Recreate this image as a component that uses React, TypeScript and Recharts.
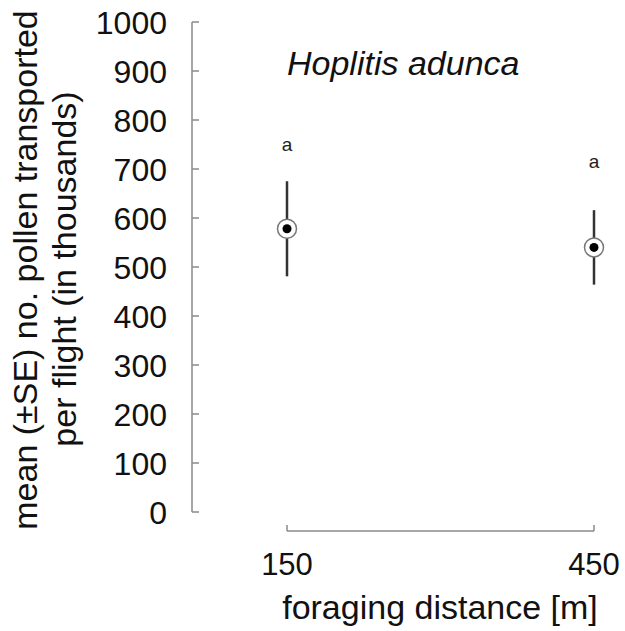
import React from 'react';
import { ScatterChart, Scatter, XAxis, YAxis, ErrorBar, ReferenceLine } from 'recharts';

const distances = [150, 450];
const meanPollen = [578, 540];
const sePollen = [97, 76];
const letters = ['a', 'a'];
const letterValues = [750, 714];
const yTicks = [0, 100, 200, 300, 400, 500, 600, 700, 800, 900, 1000];
const xTicks = [150, 450];
const title = 'Hoplitis adunca';
const yLabelLines = ['mean (±SE) no. pollen transported', 'per flight (in thousands)'];
const xLabel = 'foraging distance [m]';

const data = distances.map((d, i) => ({ x: d, y: meanPollen[i], err: sePollen[i] }));
const letterData = distances.map((d, i) => ({ x: d, y: letterValues[i], label: letters[i] }));

const FONT = '"Liberation Sans", Arial, sans-serif';
const AXIS = '#8a8a8a';
const TEXT = '#111';
const X_AXIS_LINE_Y = -38.8;

const YTick = (props: any) => {
  const { x, y, payload } = props;
  return (
    <g>
      <line x1={x} x2={x + 7} y1={y} y2={y} stroke={AXIS} strokeWidth={1.5} />
      <text x={x - 25} y={y + 12} textAnchor="end" fontSize={32} fontFamily={FONT} fill={TEXT}>
        {payload.value}
      </text>
    </g>
  );
};

const XTick = (props: any) => {
  const { x, y, payload } = props;
  return (
    <g>
      <line x1={x} x2={x} y1={y + 19} y2={y + 13} stroke={AXIS} strokeWidth={1.5} />
      <text x={x} y={y + 63} textAnchor="middle" fontSize={31} fontFamily={FONT} fill={TEXT}>
        {payload.value}
      </text>
    </g>
  );
};

const YLabel = () => (
  <g>
    <text
      transform="translate(37,270) rotate(-90)"
      textAnchor="middle"
      fontSize={34}
      fontFamily={FONT}
      fill={TEXT}
    >
      {yLabelLines[0]}
    </text>
    <text
      transform="translate(76,269) rotate(-90)"
      textAnchor="middle"
      fontSize={34}
      fontFamily={FONT}
      fill={TEXT}
    >
      {yLabelLines[1]}
    </text>
    <text x={287} y={75} fontSize={34} fontStyle="italic" fontFamily={FONT} fill={TEXT}>
      {title}
    </text>
  </g>
);

const XLabel = () => (
  <text x={440} y={619} textAnchor="middle" fontSize={34} fontFamily={FONT} fill={TEXT}>
    {xLabel}
  </text>
);

const PointShape = (props: any) => {
  const { cx, cy } = props;
  return (
    <g>
      <circle cx={cx} cy={cy} r={9.5} fill="#fff" stroke="#777" strokeWidth={1.5} />
      <circle cx={cx} cy={cy} r={4.5} fill="#000" />
    </g>
  );
};

const LetterShape = (props: any) => {
  const { cx, cy, payload } = props;
  return (
    <text x={cx} y={cy + 6} textAnchor="middle" fontSize={19} fontFamily={FONT} fill="#222">
      {payload.label}
    </text>
  );
};

export default function App() {
  return (
    <div style={{ position: 'absolute', left: 0, top: 0, background: '#fff' }}>
      <ScatterChart width={625} height={631} margin={{ top: 22, right: 31, bottom: 0, left: 0 }}>
        <XAxis
          type="number"
          dataKey="x"
          domain={[150, 450]}
          ticks={xTicks}
          padding={{ left: 95, right: 0 }}
          axisLine={false}
          tickLine={false}
          tickSize={0}
          tickMargin={0}
          height={119}
          tick={<XTick />}
          label={{ content: () => <XLabel /> }}
        />
        <YAxis
          type="number"
          dataKey="y"
          domain={[0, 1000]}
          ticks={yTicks}
          width={192}
          axisLine={{ stroke: AXIS, strokeWidth: 1.5 }}
          tickLine={false}
          tickSize={0}
          tickMargin={0}
          tick={<YTick />}
          label={{ content: () => <YLabel /> }}
        />
        <ReferenceLine
          segment={[
            { x: 150, y: X_AXIS_LINE_Y },
            { x: 450, y: X_AXIS_LINE_Y },
          ]}
          stroke={AXIS}
          strokeWidth={1.5}
          ifOverflow="visible"
        />
        <Scatter data={data} shape={<PointShape />} isAnimationActive={false}>
          <ErrorBar dataKey="err" direction="y" width={0} stroke="#333" strokeWidth={2.5} />
        </Scatter>
        <Scatter data={letterData} shape={<LetterShape />} isAnimationActive={false} />
      </ScatterChart>
    </div>
  );
}
